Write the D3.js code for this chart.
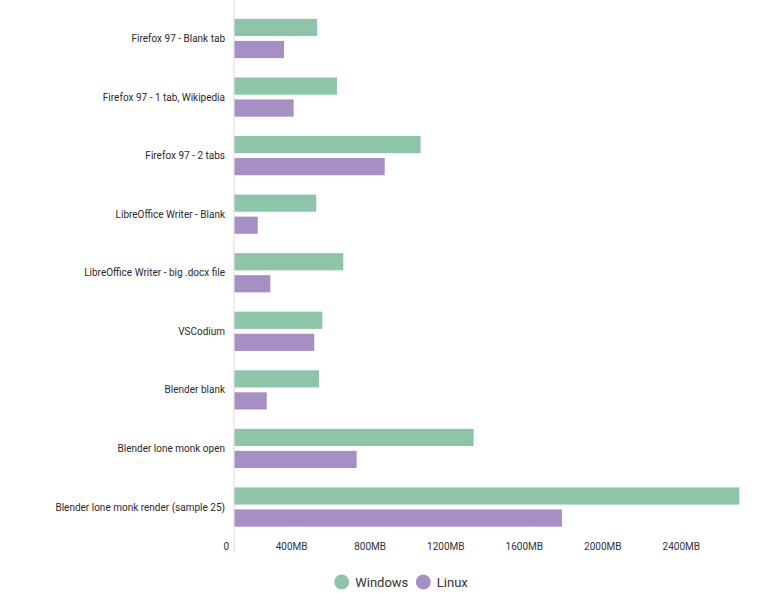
<!DOCTYPE html>
<html><head><meta charset="utf-8">
<script src="https://cdn.jsdelivr.net/npm/d3@7"></script>
<style>
body{margin:0;background:#fff;}
text{font-family:Roboto,"Noto Sans",sans-serif;}
</style></head>
<body><svg id="c" width="770" height="593"></svg>
<script>
const categories = ["Firefox 97 - Blank tab","Firefox 97 - 1 tab, Wikipedia","Firefox 97 - 2 tabs","LibreOffice Writer - Blank","LibreOffice Writer - big .docx file","VSCodium","Blender blank","Blender lone monk open","Blender lone monk render (sample 25)"];
const seriesNames = ["Windows","Linux"];
const windowsMB = [424,525,951,419,557,450,433,1221,2575];
const linuxMB = [255,304,768,121,185,409,167,625,1671];
const tickValues = [0,400,800,1200,1600,2000,2400];
const colors = ["#8ec4a8","#a78fc5"];

const svg = d3.select("#c");
const x = d3.scaleLinear().domain([0,2800]).range([234,783.5]);
const y = d3.scaleBand().domain(categories).range([9.5,536]).paddingInner(0.33).paddingOuter(0.16);
const ySub = d3.scaleBand().domain(seriesNames).range([0,y.bandwidth()]).paddingInner(0.22);

const data = categories.map((c,i)=>({cat:c, vals:[windowsMB[i],linuxMB[i]]}));

// axis line
svg.append("line").attr("x1",x(0)).attr("x2",x(0)).attr("y1",0).attr("y2",553)
  .attr("stroke","#e2e2e2").attr("stroke-width",1.2);

const g = svg.append("g").selectAll("g").data(data).join("g")
  .attr("transform",d=>`translate(0,${y(d.cat)})`);
g.selectAll("rect").data(d=>d.vals.map((v,k)=>({v,k}))).join("rect")
  .attr("x",x(0)+0.5).attr("y",d=>ySub(seriesNames[d.k]))
  .attr("width",d=>x(d.v)-x(0)-0.5).attr("height",ySub.bandwidth())
  .attr("fill",d=>colors[d.k]);

// category labels
svg.append("g").selectAll("text").data(categories).join("text")
  .attr("x",225).attr("y",d=>y(d)+y.bandwidth()/2).attr("dy","0.35em")
  .attr("text-anchor","end").attr("font-size",10).attr("fill","#2a2a2a")
  .text(d=>d);

// x tick labels
svg.append("g").selectAll("text").data(tickValues).join("text")
  .attr("x",d=>x(d)-5).attr("y",546).attr("dy","0.35em")
  .attr("text-anchor","end").attr("font-size",10).attr("fill","#333")
  .text(d=>d===0?"0":d+"MB");

// legend
const lg = svg.append("g");
const legendX = [341.7,423.3];
seriesNames.forEach((s,i)=>{
  lg.append("circle").attr("cx",legendX[i]).attr("cy",582).attr("r",7.5).attr("fill",colors[i]);
  lg.append("text").attr("x",legendX[i]+13.5).attr("y",582).attr("dy","0.35em")
    .attr("font-size",13).attr("fill","#333").text(s);
});
</script></body></html>
